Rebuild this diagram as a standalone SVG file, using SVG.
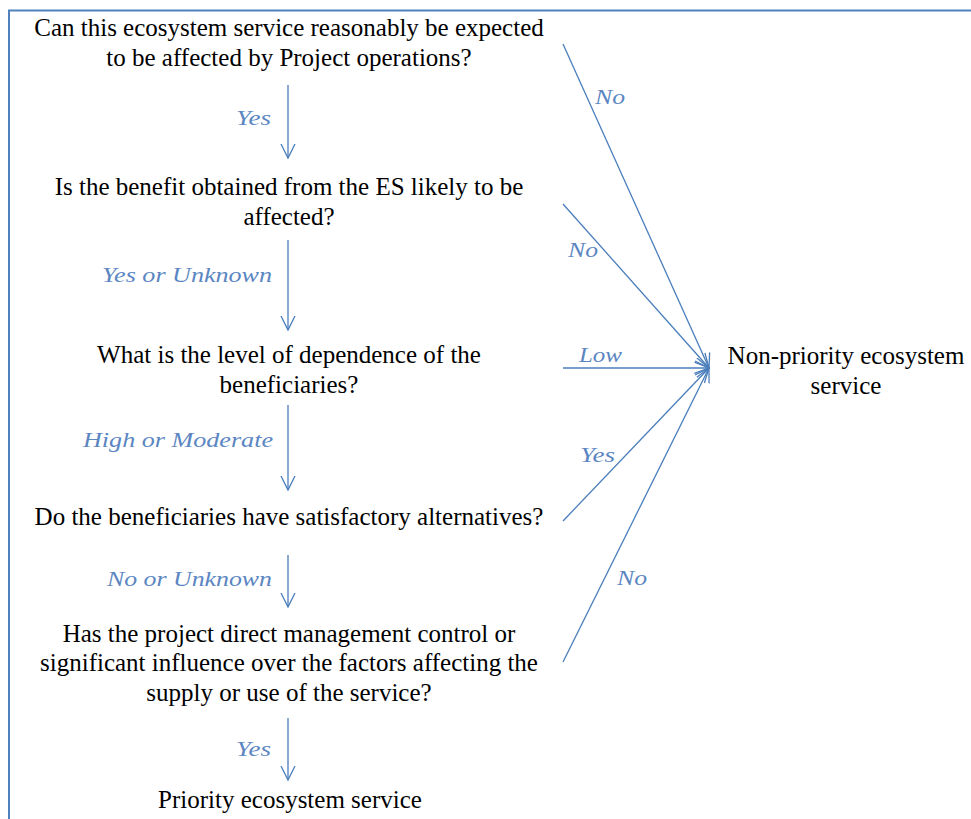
<svg xmlns="http://www.w3.org/2000/svg" width="971" height="819" viewBox="0 0 971 819">
<style>
.q{font-size:25px;fill:#000;text-anchor:middle}
.l{font-size:22px;font-style:italic;fill:#5b86c2}
.c{stroke:#4a7ebb;stroke-width:1.3;fill:none;marker-end:url(#ah)}
</style>
<defs>
<marker id="ah" markerUnits="userSpaceOnUse" markerWidth="20" markerHeight="20" refX="14" refY="8" orient="auto">
<path d="M0,1 L14,8 L0,15" fill="none" stroke="#4a7ebb" stroke-width="1.3"/>
</marker>
</defs>
<rect width="971" height="819" fill="#fff"/>
<g id="frame" stroke="#4f81bd" stroke-width="2" fill="none">
<path d="M9,819 V10.5 H971"/>
</g>
<g font-family="Liberation Serif, DejaVu Serif, serif">
<g id="n1"><text class="q" x="289" y="36">Can this ecosystem service reasonably be expected</text><text class="q" x="289" y="66">to be affected by Project operations?</text></g>
<g id="n2"><text class="q" x="289" y="195">Is the benefit obtained from the ES likely to be</text><text class="q" x="289" y="225">affected?</text></g>
<g id="n3"><text class="q" x="289" y="363">What is the level of dependence of the</text><text class="q" x="289" y="393">beneficiaries?</text></g>
<g id="n4"><text class="q" x="289" y="525">Do the beneficiaries have satisfactory alternatives?</text></g>
<g id="n5"><text class="q" x="289" y="642">Has the project direct management control or</text><text class="q" x="289" y="671">significant influence over the factors affecting the</text><text class="q" x="289" y="701">supply or use of the service?</text></g>
<g id="n6"><text class="q" x="290" y="808">Priority ecosystem service</text></g>
<g id="n7"><text class="q" x="846" y="364">Non-priority ecosystem</text><text class="q" x="846" y="394">service</text></g>
<g id="labels">
<text class="l" x="236" y="125" textLength="35" lengthAdjust="spacingAndGlyphs">Yes</text>
<text class="l" x="102" y="282" textLength="170" lengthAdjust="spacingAndGlyphs">Yes or Unknown</text>
<text class="l" x="83" y="447" textLength="190" lengthAdjust="spacingAndGlyphs">High or Moderate</text>
<text class="l" x="107" y="586" textLength="165" lengthAdjust="spacingAndGlyphs">No or Unknown</text>
<text class="l" x="236" y="756" textLength="35" lengthAdjust="spacingAndGlyphs">Yes</text>
<text class="l" x="595" y="104" textLength="30" lengthAdjust="spacingAndGlyphs">No</text>
<text class="l" x="568" y="257" textLength="30" lengthAdjust="spacingAndGlyphs">No</text>
<text class="l" x="579" y="362" textLength="43" lengthAdjust="spacingAndGlyphs">Low</text>
<text class="l" x="580" y="462" textLength="35" lengthAdjust="spacingAndGlyphs">Yes</text>
<text class="l" x="617" y="585" textLength="30" lengthAdjust="spacingAndGlyphs">No</text>
</g>
</g>
<g id="connectors">
<line class="c" x1="288" y1="85" x2="288" y2="158"/>
<line class="c" x1="288" y1="240" x2="288" y2="330"/>
<line class="c" x1="288" y1="405" x2="288" y2="490"/>
<line class="c" x1="288" y1="555" x2="288" y2="607"/>
<line class="c" x1="288" y1="718" x2="288" y2="780"/>
<line class="c" x1="563" y1="44" x2="709" y2="368"/>
<line class="c" x1="563" y1="204" x2="709" y2="368"/>
<line class="c" x1="563" y1="368" x2="709" y2="368"/>
<line class="c" x1="563" y1="521" x2="709" y2="368"/>
<line class="c" x1="563" y1="662" x2="709" y2="368"/>
</g>
</svg>
